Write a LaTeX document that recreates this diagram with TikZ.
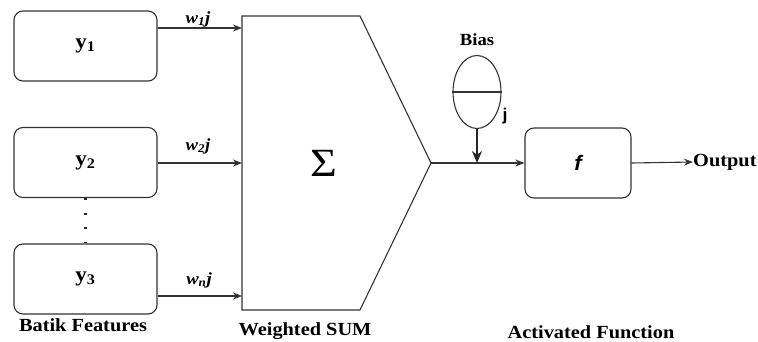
\documentclass[tikz,border=0pt]{standalone}
\usepackage{fontspec}
\setmainfont{Liberation Serif}[FakeStretch=1.1]
\newfontfamily\sansb{Liberation Sans}[FakeStretch=1.05]
\newfontfamily\sigfont{Liberation Serif}[FakeStretch=1.15]
\usetikzlibrary{arrows.meta,shapes.geometric}
\tikzset{
  line/.style={draw=black!80, line width=1.1pt},
  feat/.style={line, rounded corners=9pt, minimum width=143pt, minimum height=70pt, inner sep=0pt,
    font=\fontsize{21}{23}\selectfont\bfseries},
  arr/.style={line, -{Stealth[length=9pt,width=7pt]}},
  wlab/.style={font=\fontsize{17}{19}\selectfont\bfseries\itshape, inner sep=0pt},
  caplab/.style={font=\fontsize{18.5}{20}\selectfont\bfseries, inner sep=0pt, anchor=base},
}
\begin{document}
\begin{tikzpicture}[x=1pt,y=-1pt]
\useasboundingbox (0,0) rectangle (758,342);
% feature boxes
\node[feat] (y1) at (85.5,46) {y\textsubscript{1}};
\node[feat] (y2) at (85.5,162.5) {y\textsubscript{2}};
\node[feat] (y3) at (85.5,279) {y\textsubscript{3}};
\draw[black!85, line width=2.4pt, dash pattern=on 2.4pt off 12.1pt] (y2.south) -- (y3.north);
% weighted sum shape
\coordinate (s1) at (242,28);
\coordinate (s2) at (242,163);
\coordinate (s3) at (242,296);
\coordinate (tip) at (431,163);
\draw[line, line join=miter] (242,16) -- (360,16) -- (tip) -- (360,310) -- (242,310) -- cycle;
\node[font=\sigfont\fontsize{40}{42}\selectfont, inner sep=0pt] (sig) at (324,163) {Σ};
% inputs
\draw[arr] (y1.east |- s1) -- (s1);
\draw[arr] (y2.east |- s2) -- (s2);
\draw[arr] (y3.east |- s3) -- (s3);
\node[wlab] (w1) at (198,19) {w\textsubscript{1}j};
\node[wlab] (w2) at (198,146) {w\textsubscript{2}j};
\node[wlab] (wn) at (199,280) {w\textsubscript{n}j};
% activation
\node[feat, minimum width=106pt, font=\sansb\fontsize{21}{23}\selectfont\bfseries\itshape] (f) at (578,163) {f};
\coordinate (jn) at (477,163);
\draw[arr] (tip) -- (f.west);
% bias
\node[line, ellipse, minimum width=48pt, minimum height=73pt, inner sep=0pt] (bias) at (477,92) {};
\draw[line] (bias.west) -- (bias.east);
\node[font=\fontsize{17}{19}\selectfont\bfseries, inner sep=0pt] (biaslab) at (477,40) {Bias};
\node[font=\sansb\fontsize{17}{19}\selectfont\bfseries, inner sep=0pt] (jlab) at (505,116) {j};
\draw[draw=black!85, line width=2pt, -{Stealth[length=12pt,width=10pt]}] (bias.south) -- (jn);
% output
\node[font=\fontsize{18.5}{20}\selectfont\bfseries, inner sep=0pt, anchor=west] (out) at (693,162) {Output};
\draw[arr] (f.east) -- (out.west);
% captions
\node[caplab] (c1) at (83,331) {Batik Features};
\node[caplab] (c2) at (305,335) {Weighted SUM};
\node[caplab] (c3) at (591,338) {Activated Function};
\end{tikzpicture}
\end{document}
